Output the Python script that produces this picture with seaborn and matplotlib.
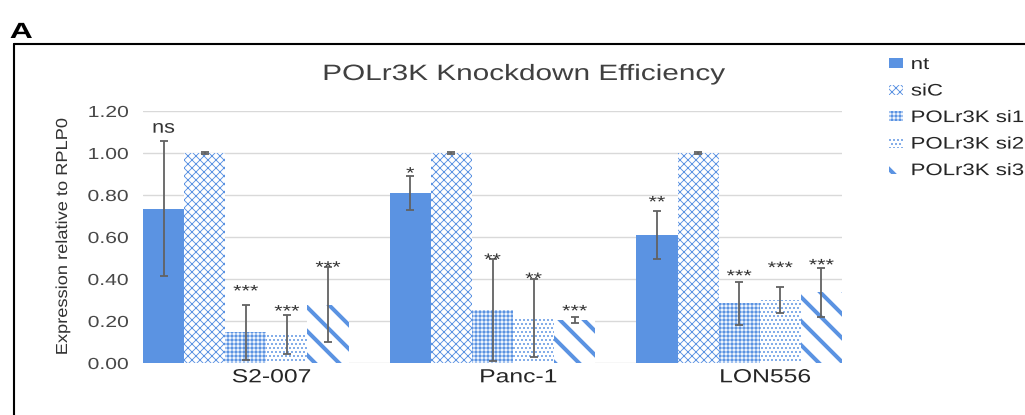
import matplotlib
matplotlib.use("Agg")
import matplotlib.pyplot as plt
import pandas as pd
import seaborn as sns
from matplotlib.lines import Line2D
from matplotlib.patheffects import AbstractPathEffect
from matplotlib.transforms import Affine2D

# ---- data -------------------------------------------------------------
cell_lines = ["S2-007", "Panc-1", "LON556"]
conditions = ["nt", "siC", "POLr3K si1", "POLr3K si2", "POLr3K si3"]

mean_nt = [0.735, 0.810, 0.610]
mean_siC = [1.000, 1.000, 1.000]
mean_si1 = [0.146, 0.252, 0.285]
mean_si2 = [0.136, 0.215, 0.300]
mean_si3 = [0.278, 0.205, 0.337]

err_nt = [0.320, 0.080, 0.115]
err_siC = [0.004, 0.004, 0.004]
err_si1 = [0.130, 0.242, 0.102]
err_si2 = [0.094, 0.185, 0.060]
err_si3 = [0.180, 0.016, 0.117]

sig_nt = ["ns", "*", "**"]
sig_siC = ["", "", ""]
sig_si1 = ["***", "**", "***"]
sig_si2 = ["***", "**", "***"]
sig_si3 = ["***", "***", "***"]

# heights at which the significance marks are centred
sig_h_nt = [1.119, 0.924, 0.787]
sig_h_siC = [0.0, 0.0, 0.0]
sig_h_si1 = [0.363, 0.513, 0.435]
sig_h_si2 = [0.267, 0.422, 0.474]
sig_h_si3 = [0.476, 0.268, 0.487]

y_ticks = [0.0, 0.2, 0.4, 0.6, 0.8, 1.0, 1.2]
y_tick_labels = ["0.00", "0.20", "0.40", "0.60", "0.80", "1.00", "1.20"]

title = "POLr3K Knockdown Efficiency"
y_label = "Expression relative to RPLP0"
panel_tag = "A"

means = [mean_nt, mean_siC, mean_si1, mean_si2, mean_si3]
errs = [err_nt, err_siC, err_si1, err_si2, err_si3]
sigs = [sig_nt, sig_siC, sig_si1, sig_si2, sig_si3]
sig_heights = [sig_h_nt, sig_h_siC, sig_h_si1, sig_h_si2, sig_h_si3]

df = pd.DataFrame(
    [
        {"line": line, "cond": cond, "expr": means[k][i]}
        for k, cond in enumerate(conditions)
        for i, line in enumerate(cell_lines)
    ]
)


# ---- wide text rendering ----------------------------------------------
class Widen(AbstractPathEffect):
    """Stretch glyphs along the baseline around a chosen anchor."""

    def __init__(self, factor, anchor="center"):
        super().__init__()
        self.factor = factor
        self.anchor = anchor

    def draw_path(self, renderer, gc, tpath, affine, rgbFace=None):
        ext = tpath.get_extents()
        x0 = {"left": ext.x0, "center": 0.5 * (ext.x0 + ext.x1), "right": ext.x1}[self.anchor]
        stretch = Affine2D().translate(-x0, 0).scale(self.factor, 1).translate(x0, 0)
        renderer.draw_path(gc, tpath, stretch + affine, rgbFace)


# ---- styling ----------------------------------------------------------
# The figure is rendered at 72 dpi, so every size below in points is also
# a size in pixels.
sns.set_theme(style="white")
plt.rcParams["font.family"] = ["Liberation Sans", "DejaVu Sans"]
plt.rcParams["hatch.linewidth"] = 1.0

W, H, DPI = 1025, 415, 72
BLUE = "#5B93E2"
GRID = "#D9D9D9"
TICK_COLOR = "#474747"
ERR_COLOR = "#626262"


def fx(px):
    return px / W


def fy(py):
    return 1 - py / H


fig = plt.figure(figsize=(W / DPI, H / DPI), dpi=DPI)
fig.patch.set_facecolor("white")
ax = fig.add_axes([fx(143), fy(363), (842 - 143) / W, (363 - 111) / H])

sns.barplot(
    data=df, x="line", y="expr", hue="cond",
    order=cell_lines, hue_order=conditions,
    palette=[BLUE] * len(conditions), saturation=1,
    width=5 / 6, gap=0, errorbar=None, legend=False, ax=ax,
)
bar_groups = list(ax.containers)

# fill / hatch per condition: (face, hatch colour, hatch, hatch linewidth)
bar_styles = [
    (BLUE, BLUE, None, 1.0),
    ("white", BLUE, "xxx", 0.9),
    (BLUE, "white", "+++", 0.9),
    ("white", BLUE, "...", 1.1),
    ("white", BLUE, "\\", 4.0),
]


def style_patch(p, style):
    face, hcol, hatch, hlw = style
    p.set_facecolor(face)
    p.set_edgecolor(hcol)
    p.set_linewidth(0)
    if hatch:
        p.set_hatch(hatch)
        if hasattr(p, "set_hatch_linewidth"):
            p.set_hatch_linewidth(hlw)


for cont, style in zip(bar_groups, bar_styles):
    for p in cont.patches:
        style_patch(p, style)

# error bars and significance marks on top of each bar
for k, cont in enumerate(bar_groups):
    xs = [p.get_x() + p.get_width() / 2 for p in cont.patches]
    ys = [p.get_height() for p in cont.patches]
    ax.errorbar(xs, ys, yerr=errs[k], fmt="none", ecolor=ERR_COLOR,
                elinewidth=1.8, capsize=4.2, capthick=1.8, zorder=4)
    for x, lab, h in zip(xs, sigs[k], sig_heights[k]):
        if not lab:
            continue
        if lab == "ns":
            fs, off, wf = 18, 0.26 * 18, 1.2
        else:
            fs, off, wf = 16, 0.575 * 16, 1.35
        ax.annotate(lab, (x, h), xytext=(0, -off), textcoords="offset points",
                    ha="center", va="baseline", fontsize=fs, color="#333333",
                    path_effects=[Widen(wf)], zorder=5)

ax.set_xlim(-2.5 / 6, len(cell_lines) - 1 + 2.5 / 6)
ax.set_ylim(0, 1.2)
ax.set_yticks(y_ticks, y_tick_labels)
ax.set_xticks([i + 0.105 for i in range(len(cell_lines))], cell_lines)
ax.set_xlabel("")
ax.set_ylabel("")
ax.set_axisbelow(True)
ax.yaxis.grid(True, color=GRID, linewidth=1.4)
ax.xaxis.grid(False)
for s in ax.spines.values():
    s.set_visible(False)
ax.tick_params(axis="y", length=0, pad=14.5, labelsize=16, labelcolor=TICK_COLOR)
ax.tick_params(axis="x", length=0, pad=6.3, labelsize=19, labelcolor="#262626")
for t in ax.get_yticklabels():
    t.set_path_effects([Widen(1.32, "right")])
for t in ax.get_xticklabels():
    t.set_path_effects([Widen(1.3, "center")])

# legend at the right
leg = ax.legend(
    handles=bar_groups, labels=conditions,
    loc="upper left", bbox_to_anchor=(fx(889), fy(57)),
    bbox_transform=fig.transFigure, frameon=False, borderpad=0,
    borderaxespad=0, fontsize=16.7, handlelength=0.84, handleheight=0.55,
    handletextpad=0.48, labelspacing=0.69,
)
for t in leg.get_texts():
    t.set_color("#262626")
    t.set_path_effects([Widen(1.33, "left")])
for p, style in zip(leg.get_patches(), bar_styles):
    style_patch(p, style)

# title, axis label and panel tag
fig.text(fx(524.5), fy(80), title, ha="center", va="baseline", fontsize=22.2,
         color="#404040", path_effects=[Widen(1.34)])
fig.text(fx(62.5), fy(236.5), y_label, rotation=90, ha="center", va="center",
         fontsize=16, color="#333333", path_effects=[Widen(1.14)])
fig.text(fx(10), fy(38), panel_tag, ha="left", va="baseline", fontsize=22,
         fontweight="bold", color="black", path_effects=[Widen(1.45, "left")])

# outer frame (top and left edges visible)
fig.add_artist(Line2D([fx(14), 1.02], [fy(44), fy(44)], color="black",
                      linewidth=2.1, transform=fig.transFigure))
fig.add_artist(Line2D([fx(14), fx(14)], [fy(44), -0.02], color="black",
                      linewidth=2.1, transform=fig.transFigure))

fig.savefig("out.png", dpi=DPI)
